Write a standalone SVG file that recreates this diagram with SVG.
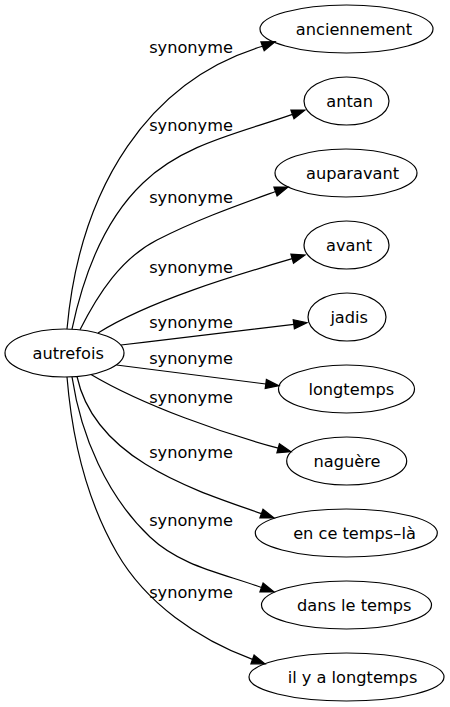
<svg xmlns="http://www.w3.org/2000/svg" width="450" height="707" viewBox="0 0 450 707">
<style>
.node ellipse{fill:none;stroke:#000;stroke-width:1.2}
.node text,.lbl{font-family:"DejaVu Sans",Verdana,sans-serif;font-size:16.2px;fill:#000;text-anchor:middle}
.edge path{fill:none;stroke:#000;stroke-width:1.2}
.edge polygon{fill:#000;stroke:#000;stroke-width:1.2}
</style>
<rect x="0" y="0" width="450" height="707" fill="#fff"/>
<g id="connectors" class="edge">
<path d="M67,329 C80,185 150,80 262.5,46.3"/>
<polygon points="275,41.7 264.2,50.7 260.9,41.9"/>
<path d="M72,329.2 C83,277 104,220 143,183 C183,144 239.6,133 292.45,114.4"/>
<polygon points="305,110 294,118.8 290.9,110"/>
<path d="M80,329.8 C98,294 121,258.4 157,240 C196,220 234.1,206.5 275.5,191.5"/>
<polygon points="288,187 277.1,195.9 273.9,187.1"/>
<path d="M98,333 C149,301 234.6,275.5 292.2,258.7"/>
<polygon points="305,255 293.5,263.2 290.9,254.2"/>
<path d="M121,345 C180,338 240,331 293.8,324.3"/>
<polygon points="307,322.7 294.4,328.9 293.2,319.7"/>
<path d="M116.5,365 C170,371.5 220,378 265.8,384"/>
<polygon points="279,385.7 265.2,388.6 266.4,379.4"/>
<path d="M91,374.5 C144,406 225,433.9 278.2,448.2"/>
<polygon points="291,451.7 276.9,452.8 279.4,443.7"/>
<path d="M77,376.5 C95,460 195.4,490.5 261.4,513.6"/>
<polygon points="274,518 259.9,518 263,509.2"/>
<path d="M72,376.8 C81,436 106.5,495.7 150,537 C180.5,566 222,573.2 261.5,587.5"/>
<polygon points="274,592 259.9,591.9 263.1,583.1"/>
<path d="M67,377 C72,438 86.5,500.2 117,553 C146,603.2 198.1,639.3 252.5,659.4"/>
<polygon points="265,664 250.9,663.8 254.1,655"/>
</g>
<g id="edge-labels">
<text class="lbl" x="191" y="53">synonyme</text>
<text class="lbl" x="191" y="131">synonyme</text>
<text class="lbl" x="191" y="203">synonyme</text>
<text class="lbl" x="191" y="273">synonyme</text>
<text class="lbl" x="191" y="328">synonyme</text>
<text class="lbl" x="191" y="364">synonyme</text>
<text class="lbl" x="191" y="403">synonyme</text>
<text class="lbl" x="191" y="458">synonyme</text>
<text class="lbl" x="191" y="526">synonyme</text>
<text class="lbl" x="191" y="598">synonyme</text>
</g>
<g id="autrefois" class="node"><ellipse cx="64.5" cy="353" rx="59.5" ry="24"/><text x="68.2" y="358.7">autrefois</text></g>
<g id="anciennement" class="node"><ellipse cx="346.5" cy="29" rx="86.5" ry="24"/><text x="354" y="34.7">anciennement</text></g>
<g id="antan" class="node"><ellipse cx="346.5" cy="101" rx="42.5" ry="24"/><text x="349.7" y="106.7">antan</text></g>
<g id="auparavant" class="node"><ellipse cx="346" cy="173" rx="71" ry="24"/><text x="352.5" y="178.7">auparavant</text></g>
<g id="avant" class="node"><ellipse cx="346.5" cy="245" rx="42.5" ry="24"/><text x="349" y="250.7">avant</text></g>
<g id="jadis" class="node"><ellipse cx="347" cy="317" rx="39" ry="24"/><text x="349.2" y="322.7">jadis</text></g>
<g id="longtemps" class="node"><ellipse cx="346.5" cy="389" rx="68" ry="24"/><text x="351.3" y="394.7">longtemps</text></g>
<g id="naguere" class="node"><ellipse cx="346.7" cy="461" rx="60" ry="24"/><text x="347" y="466.7">naguère</text></g>
<g id="en-ce-temps-la" class="node"><ellipse cx="346.3" cy="533" rx="91" ry="24"/><text x="354.5" y="538.7">en ce temps–là</text></g>
<g id="dans-le-temps" class="node"><ellipse cx="346.5" cy="605" rx="85" ry="24"/><text x="354.3" y="610.7">dans le temps</text></g>
<g id="il-y-a-longtemps" class="node"><ellipse cx="346.5" cy="677" rx="97.5" ry="24"/><text x="352.5" y="682.7">il y a longtemps</text></g>
</svg>
